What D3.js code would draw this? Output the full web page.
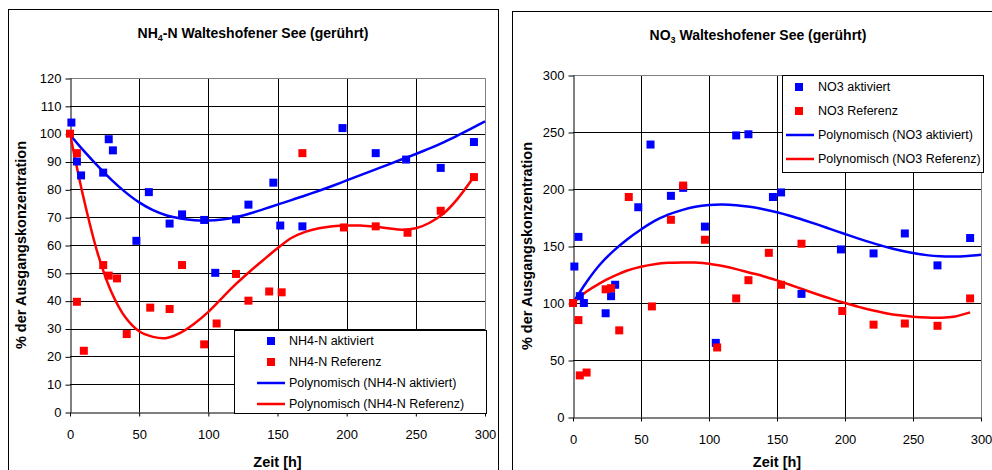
<!DOCTYPE html>
<html>
<head>
<meta charset="utf-8">
<script src="https://cdn.jsdelivr.net/npm/d3@7"></script>
<style>
  html, body { margin: 0; padding: 0; background: #fff; }
  svg { display: block; font-family: Arial, "Liberation Sans", sans-serif; }
</style>
</head>
<body>
<div id="vis"></div>
<script>
const layout = {
    width: 992,
    height: 470
};

// NH4-N panel data
const nh4AktX = [1, 5, 8, 24, 28, 31, 48, 57, 72, 81, 97, 105, 120, 129, 147, 152, 168, 197, 221, 243, 268, 292];
const nh4AktY = [104, 90, 85, 86, 98, 94, 61.5, 79, 67.7, 71, 69, 50, 69.2, 74.5, 82.4, 67, 66.7, 102, 93, 90.7, 87.7, 97];
const nh4RefX = [0, 5, 5, 10, 24, 28, 34, 41, 58, 72, 81, 97, 106, 120, 129, 144, 153, 168, 198, 221, 244, 268, 292];
const nh4RefY = [100, 93, 39.6, 22, 52.8, 49, 48, 28, 37.5, 37, 52.8, 24.3, 31.8, 49.6, 40, 43.3, 43, 93, 66.3, 66.7, 64.4, 72.3, 84.4];
// trend lines
const nh4AktFitX = [0, 10, 20, 30, 40, 50, 60, 70, 80, 90, 100, 110, 120, 130, 140, 150, 160, 170, 180, 190, 200, 210, 220, 230, 240, 250, 260, 270, 280, 290, 300];
const nh4AktFitY = [99.6, 93.8, 88.4, 83.4, 79, 75.3, 72.5, 70.6, 69.5, 68.9, 68.8, 69.2, 70, 71.3, 72.9, 74.5, 76.1, 77.8, 79.5, 81.3, 83.2, 85.1, 87, 88.9, 90.8, 92.7, 94.7, 96.9, 99.3, 101.8, 104.4];
const nh4RefFitX = [0, 10, 20, 30, 40, 50, 60, 70, 80, 90, 100, 110, 120, 130, 140, 150, 160, 170, 180, 190, 200, 210, 220, 230, 240, 250, 260, 270, 280, 292];
const nh4RefFitY = [100, 76.5, 57, 43, 34, 29, 27, 26.6, 28.5, 31.8, 36, 41, 46, 50.5, 54.7, 58.8, 62.5, 64.7, 66, 66.7, 67, 67, 66.6, 66, 65.5, 66, 68, 71.3, 76.5, 84.5];

// NO3 panel data
const no3AktX = [1, 4, 5, 8, 24, 28, 31, 48, 57, 72, 81, 97, 105, 120, 129, 147, 153, 168, 197, 221, 244, 268, 292];
const no3AktY = [132, 158, 106, 100, 91, 106, 116, 184, 239, 194, 201, 167, 65, 247, 248, 193, 197, 108, 147, 143.5, 161, 133, 157];
const no3RefX = [0, 4, 5, 10, 24, 28, 34, 41, 58, 72, 81, 97, 106, 120, 129, 144, 153, 168, 198, 221, 244, 268, 292];
const no3RefY = [100, 85, 36.5, 39, 112, 113, 76, 193, 97, 173, 203, 155.5, 61, 104, 120, 144, 116, 152, 93, 81, 82, 80, 104];
const no3AktFitX = [0, 10, 20, 30, 40, 50, 60, 70, 80, 90, 100, 110, 120, 130, 140, 150, 160, 170, 180, 190, 200, 210, 220, 230, 240, 250, 260, 270, 280, 290, 300];
const no3AktFitY = [100, 118.5, 134, 146, 156, 164.5, 172, 177.5, 181.5, 184.5, 186, 186.4, 185.8, 184.4, 182.3, 179.6, 176.3, 172.6, 168.7, 164.6, 160.5, 156.5, 152.7, 149.2, 146.2, 143.8, 142, 141, 140.8, 141.3, 142.4];
const no3RefFitX = [0, 10, 20, 30, 40, 50, 60, 70, 80, 90, 100, 110, 120, 130, 140, 150, 160, 170, 180, 190, 200, 210, 220, 230, 240, 250, 260, 270, 280, 292];
const no3RefFitY = [100, 110, 117.5, 123.5, 128.5, 131.8, 134, 135.2, 135.6, 135.5, 134.5, 132.4, 129.7, 126.6, 123.5, 119.8, 115.8, 111.6, 107.5, 103.6, 100, 96.6, 93.6, 91.1, 89.2, 87.9, 87.2, 87.1, 88, 91.8];

const xTicks = [0, 50, 100, 150, 200, 250, 300];
const nh4YTicks = [0, 10, 20, 30, 40, 50, 60, 70, 80, 90, 100, 110, 120];
const no3YTicks = [0, 50, 100, 150, 200, 250, 300];

const zip = (xs, ys) => xs.map((x, i) => ({x: x, y: ys[i]}));

let svg = d3.select("#vis").append("svg")
    .attr("width", layout.width)
    .attr("height", layout.height)
    .attr("viewBox", [0, 0, layout.width, layout.height].join(" "));

function drawPanel(p) {
    // outer chart box
    svg.append("rect")
        .attr("x", p.box[0] + 0.5).attr("y", p.box[1] + 0.5)
        .attr("width", p.box[2]).attr("height", p.box[3])
        .attr("fill", "#fff").attr("stroke", "#000").attr("stroke-width", 1);

    let xScale = d3.scaleLinear().domain([0, 300]).range([p.left, p.right]);
    let yScale = d3.scaleLinear().domain([0, p.yMax]).range([p.bottom, p.top]);

    // horizontal grid
    svg.append("g").selectAll("line").data(p.yTicks.slice(1, -1)).join("line")
        .attr("x1", p.left).attr("x2", p.right)
        .attr("y1", d => Math.round(yScale(d)) + 0.5).attr("y2", d => Math.round(yScale(d)) + 0.5)
        .attr("stroke", "#000");
    // vertical grid
    svg.append("g").selectAll("line").data(xTicks.slice(1, -1)).join("line")
        .attr("x1", d => Math.round(xScale(d)) + 0.5).attr("x2", d => Math.round(xScale(d)) + 0.5)
        .attr("y1", p.top).attr("y2", p.bottom)
        .attr("stroke", "#000");
    // plot area border (top/right grey)
    svg.append("path")
        .attr("d", `M${p.left},${p.top + 0.5}H${p.right + 0.5}V${p.bottom}`)
        .attr("fill", "none").attr("stroke", "#808080");

    // axes
    let yAxis = svg.append("g")
        .attr("transform", `translate(${p.left + 0.5},0)`)
        .call(d3.axisLeft(yScale).tickValues(p.yTicks).tickSize(5).tickSizeOuter(0).tickPadding(4));
    let xAxis = svg.append("g")
        .attr("transform", `translate(0,${p.bottom + 0.5})`)
        .call(d3.axisBottom(xScale).tickValues(xTicks).tickSize(4).tickSizeOuter(0).tickPadding(13));
    [yAxis, xAxis].forEach(ax => {
        ax.selectAll("text").attr("fill", "#000").attr("font-size", 13)
            .attr("font-family", "Arial, 'Liberation Sans', sans-serif");
        ax.selectAll("line, .domain").attr("stroke", "#000");
    });
    yAxis.selectAll(".tick line").attr("transform", "translate(0,0.5)");

    // trend lines
    const clipId = "clip-" + p.id;
    svg.append("clipPath").attr("id", clipId).append("rect")
        .attr("x", p.left).attr("y", p.top).attr("width", p.right - p.left + 1).attr("height", p.bottom - p.top);
    let line = d3.line().x(d => xScale(d.x)).y(d => yScale(d.y)).curve(d3.curveCatmullRom);
    p.fits.forEach(f => {
        svg.append("path").datum(f.data)
            .attr("clip-path", `url(#${clipId})`)
            .attr("fill", "none").attr("stroke", f.color).attr("stroke-width", 2.5)
            .attr("d", line);
    });

    // markers (red drawn after blue)
    const ms = 8;
    p.series.forEach(s => {
        svg.append("g").selectAll("rect").data(s.data).join("rect")
            .attr("x", d => xScale(d.x) - ms / 2)
            .attr("y", d => yScale(d.y) - ms / 2)
            .attr("width", ms).attr("height", ms)
            .attr("fill", s.color);
    });

    // chart title
    let title = svg.append("text")
        .attr("x", p.titleX).attr("y", p.titleY)
        .attr("text-anchor", "middle")
        .attr("font-size", 14).attr("font-weight", "bold");
    title.append("tspan").text(p.title[0]);
    title.append("tspan").attr("font-size", 9).attr("dy", 3).text(p.title[1]);
    title.append("tspan").attr("dy", -3).text(p.title[2]);

    // axis titles
    svg.append("text")
        .attr("transform", `translate(${p.yTitleX},${(p.top + p.bottom) / 2}) rotate(-90)`)
        .attr("text-anchor", "middle").attr("dy", "0.35em")
        .attr("font-size", 14.5).attr("font-weight", "bold")
        .text("% der Ausgangskonzentration");
    svg.append("text")
        .attr("x", (p.left + p.right) / 2).attr("y", 467)
        .attr("text-anchor", "middle")
        .attr("font-size", 14.5).attr("font-weight", "bold")
        .text("Zeit [h]");

    // legend
    let lg = p.legend;
    svg.append("rect")
        .attr("x", lg.x + 0.5).attr("y", lg.y + 0.5).attr("width", lg.w).attr("height", lg.h)
        .attr("fill", "#fff").attr("stroke", "#000");
    lg.items.forEach((it, i) => {
        let cy = lg.y + lg.first + i * lg.step;
        if (it.type === "marker") {
            svg.append("rect")
                .attr("x", lg.markX - ms / 2).attr("y", cy - ms / 2)
                .attr("width", ms).attr("height", ms).attr("fill", it.color);
        } else {
            svg.append("line")
                .attr("x1", lg.lineX[0]).attr("x2", lg.lineX[1])
                .attr("y1", cy).attr("y2", cy)
                .attr("stroke", it.color).attr("stroke-width", 2.5);
        }
        svg.append("text")
            .attr("x", lg.textX).attr("y", cy).attr("dy", "0.35em")
            .attr("font-size", 12.5)
            .text(it.label);
    });
}

drawPanel({
    id: "nh4",
    box: [8, 9, 490, 480],
    left: 70, right: 485, top: 78, bottom: 412,
    yMax: 120, yTicks: nh4YTicks,
    title: ["NH", "4", "-N Walteshofener See (gerührt)"],
    titleX: 253, titleY: 38,
    yTitleX: 21,
    series: [
        {color: "#0000ff", data: zip(nh4AktX, nh4AktY)},
        {color: "#ff0000", data: zip(nh4RefX, nh4RefY)}
    ],
    fits: [
        {color: "#0000ff", data: zip(nh4AktFitX, nh4AktFitY)},
        {color: "#ff0000", data: zip(nh4RefFitX, nh4RefFitY)}
    ],
    legend: {
        x: 234, y: 330, w: 252, h: 83, first: 11, step: 21,
        markX: 271, textX: 289, lineX: [257, 285],
        items: [
            {type: "marker", color: "#0000ff", label: "NH4-N aktiviert"},
            {type: "marker", color: "#ff0000", label: "NH4-N Referenz"},
            {type: "line", color: "#0000ff", label: "Polynomisch (NH4-N aktiviert)"},
            {type: "line", color: "#ff0000", label: "Polynomisch (NH4-N Referenz)"}
        ]
    }
});

drawPanel({
    id: "no3",
    box: [512, 11, 500, 480],
    left: 573, right: 981, top: 75, bottom: 417,
    yMax: 300, yTicks: no3YTicks,
    title: ["NO", "3", " Walteshofener See (gerührt)"],
    titleX: 758, titleY: 40,
    yTitleX: 527,
    series: [
        {color: "#0000ff", data: zip(no3AktX, no3AktY)},
        {color: "#ff0000", data: zip(no3RefX, no3RefY)}
    ],
    fits: [
        {color: "#0000ff", data: zip(no3AktFitX, no3AktFitY)},
        {color: "#ff0000", data: zip(no3RefFitX, no3RefFitY)}
    ],
    legend: {
        x: 782, y: 75, w: 201, h: 97, first: 12, step: 24,
        markX: 799, textX: 818, lineX: [786, 814],
        items: [
            {type: "marker", color: "#0000ff", label: "NO3 aktiviert"},
            {type: "marker", color: "#ff0000", label: "NO3 Referenz"},
            {type: "line", color: "#0000ff", label: "Polynomisch (NO3 aktiviert)"},
            {type: "line", color: "#ff0000", label: "Polynomisch (NO3 Referenz)"}
        ]
    }
});
</script>
</body>
</html>
